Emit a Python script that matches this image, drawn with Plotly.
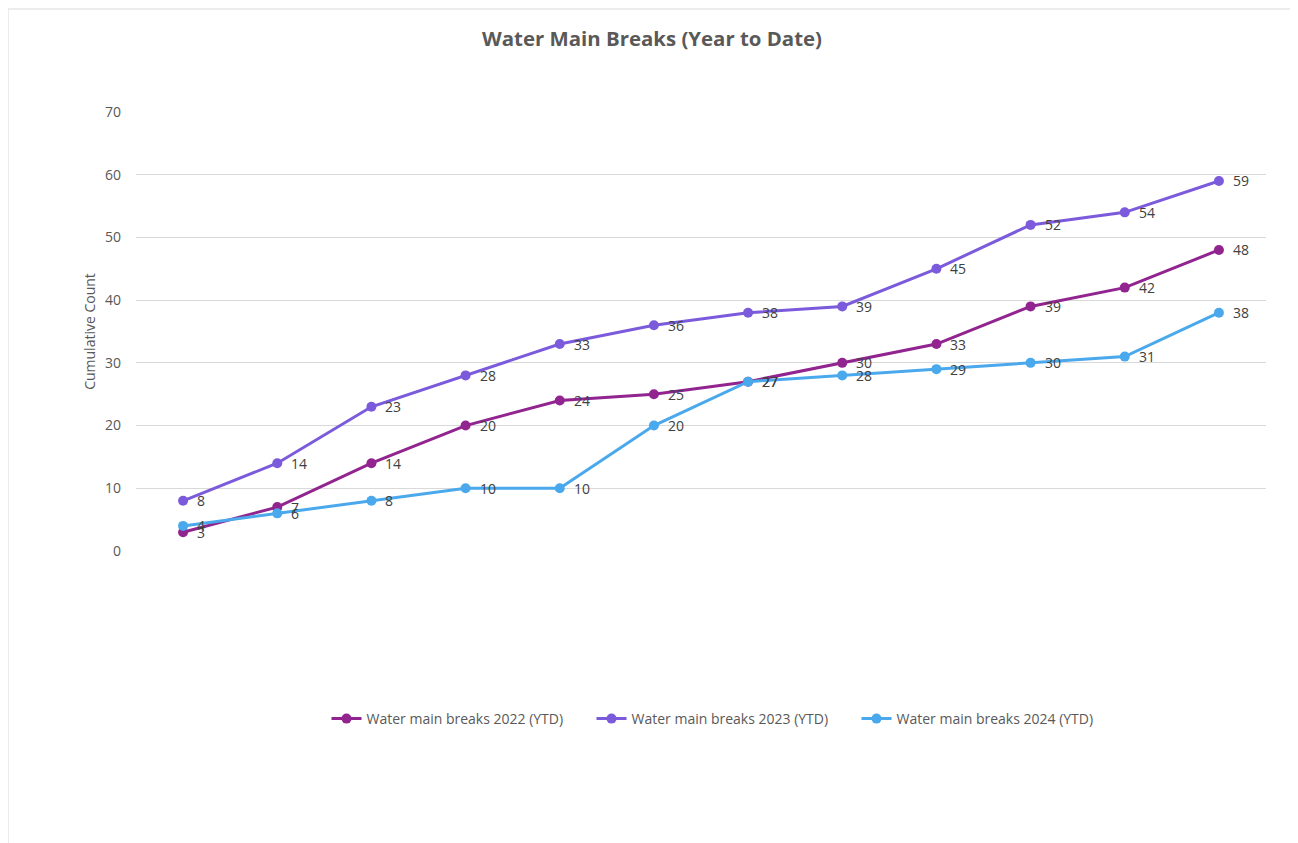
import plotly.graph_objects as go

months = ["Jan", "Feb", "Mar", "Apr", "May", "Jun", "Jul", "Aug", "Sep", "Oct", "Nov", "Dec"]
breaks_2022 = [3, 7, 14, 20, 24, 25, 27, 30, 33, 39, 42, 48]
breaks_2023 = [8, 14, 23, 28, 33, 36, 38, 39, 45, 52, 54, 59]
breaks_2024 = [4, 6, 8, 10, 10, 20, 27, 28, 29, 30, 31, 38]

series = [
    ("Water main breaks 2022 (YTD)", breaks_2022, "#922490"),
    ("Water main breaks 2023 (YTD)", breaks_2023, "#7B5BDB"),
    ("Water main breaks 2024 (YTD)", breaks_2024, "#4AA8EC"),
]

FONT = "Open Sans"
W, H = 1290, 835
L, R, T, B = 128, 1258, 104, 543  # plot area in figure pixels

fig = go.Figure()
annotations = []
for name, vals, col in series:
    fig.add_trace(go.Scatter(
        x=months, y=vals, name=name, mode="lines+markers",
        line=dict(color=col, width=3),
        marker=dict(color=col, size=10),
        hoverinfo="skip",
    ))
    for m, v in zip(months, vals):
        annotations.append(dict(x=m, y=v, xref="x", yref="y", text=str(v), showarrow=False,
                                xanchor="left", yanchor="middle", xshift=12,
                                font=dict(family=FONT, size=14, color="#404040")))

pw, ph = R - L, B - T
fig.update_layout(
    width=W, height=H,
    margin=dict(l=L, r=W - R, t=T, b=H - B),
    paper_bgcolor="white", plot_bgcolor="white",
    title=dict(text="<b>Water Main Breaks (Year to Date)</b>", xref="container", x=644 / W,
               xanchor="center", y=1 - 31 / H, yanchor="middle",
               font=dict(family=FONT, size=20.4, color="#595959")),
    font=dict(family=FONT, size=14, color="#595959"),
    showlegend=True,
    legend=dict(orientation="h", x=(716 - L) / pw, xanchor="center", y=(B - 711) / ph, yanchor="middle",
                font=dict(family=FONT, size=14, color="#595959"), itemwidth=30, entrywidth=220),
    annotations=annotations,
    shapes=[dict(type="rect", xref="paper", yref="paper",
                 x0=(0 - L) / pw, x1=(1289 - L) / pw,
                 y0=(B - 860) / ph, y1=(B - 1) / ph,
                 line=dict(color="#d9d9d9", width=1), fillcolor="rgba(0,0,0,0)", layer="below")],
)
fig.update_xaxes(type="category", range=[-0.5, 11.5], showticklabels=False, showgrid=False,
                 zeroline=False, showline=False, ticks="")
fig.update_yaxes(range=[0, 70], dtick=10, showgrid=True, gridcolor="#d9d9d9", gridwidth=1,
                 zeroline=False, showline=False, ticks="", ticklabelstandoff=14,
                 title=dict(text="Cumulative Count", standoff=6,
                            font=dict(family=FONT, size=14, color="#595959")),
                 tickfont=dict(family=FONT, size=14, color="#595959"))

fig.write_html("out.html")
